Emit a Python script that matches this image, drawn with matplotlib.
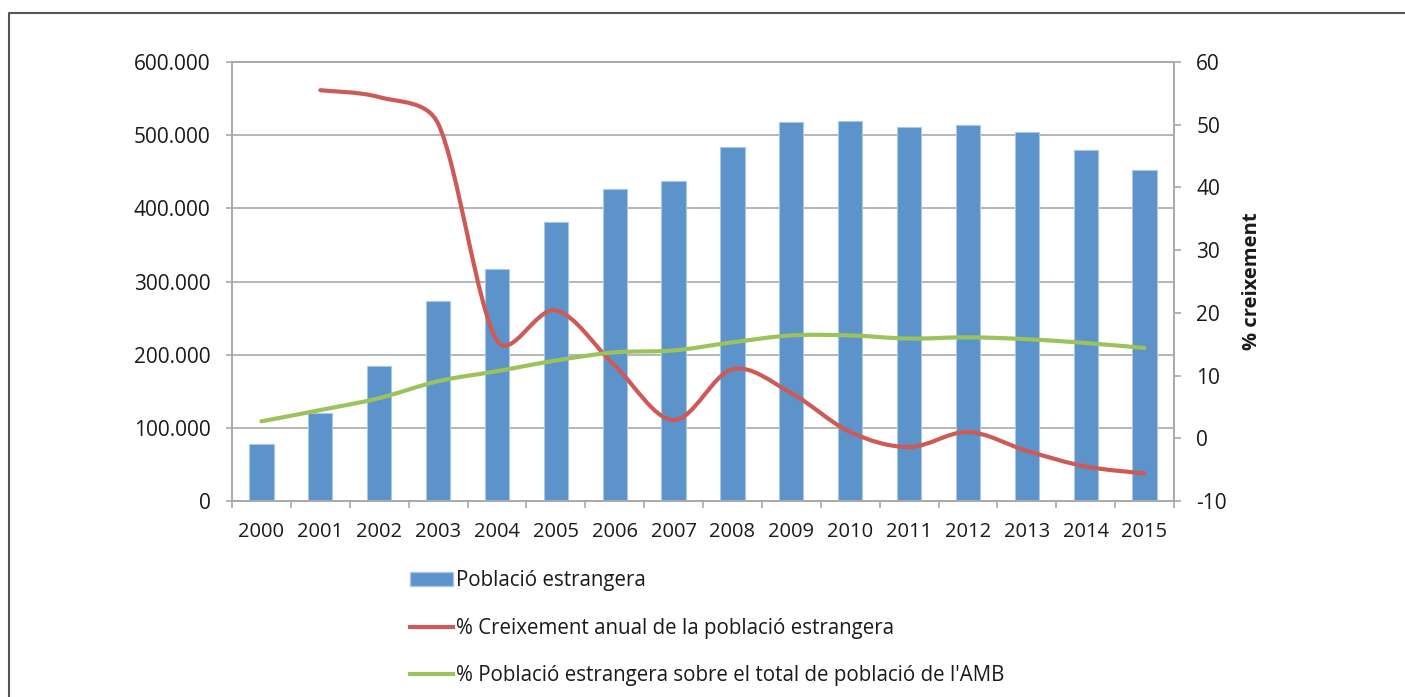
"""Foreign population in the AMB, 2000-2015: bars plus two smoothed % lines."""
import matplotlib
matplotlib.use('Agg')
import matplotlib.pyplot as plt
import numpy as np
from matplotlib.lines import Line2D
from matplotlib.patches import Patch, PathPatch
from matplotlib.path import Path
import matplotlib.ticker as ticker

plt.rcParams['font.family'] = ['Open Sans', 'DejaVu Sans']
plt.rcParams['axes.unicode_minus'] = False

years = ['2000', '2001', '2002', '2003', '2004', '2005', '2006', '2007',
         '2008', '2009', '2010', '2011', '2012', '2013', '2014', '2015']
poblacio = [78000, 120000, 184000, 273000, 317000, 381000, 426000, 438000,
            484000, 518000, 520000, 511000, 514000, 504000, 480000, 452000]
# growth starts in 2001 (index 1)
creixement = [55.5, 54.4, 50.2, 15.6, 20.4, 11.6, 2.9, 11.0,
              7.2, 1.0, -1.4, 1.0, -2.0, -4.5, -5.6]
percent_amb = [2.7, 4.5, 6.4, 9.1, 10.7, 12.4, 13.7, 14.0,
               15.3, 16.4, 16.4, 15.9, 16.1, 15.8, 15.2, 14.4]

BLUE = '#5b93ca'
RED = '#cd5a55'
GREEN = '#9cc25b'
GRID = '#a9a9a9'
TXT = '#1a1a1a'


def smooth_path(x, y, sx, sy, clip=0.4):
    # Catmull-Rom style bezier (arm = chord/6), with each arm clipped to a
    # share of its own segment so short segments don't overshoot.
    # Done in pixel space, then mapped back to data units.
    p = np.column_stack([np.asarray(x, float) * sx, np.asarray(y, float) * sy])
    n = len(p)
    tang = []
    for i in range(n):
        a = p[max(i - 1, 0)]
        b = p[min(i + 1, n - 1)]
        tang.append((b - a) / 6)

    def arm(t, seg):
        L = np.hypot(*t)
        lim = clip * seg
        return t if L <= lim else t * lim / L

    verts = [p[0]]
    codes = [Path.MOVETO]
    for i in range(n - 1):
        seg = np.hypot(*(p[i + 1] - p[i]))
        verts += [p[i] + arm(tang[i], seg), p[i + 1] - arm(tang[i + 1], seg),
                  p[i + 1]]
        codes += [Path.CURVE4] * 3
    verts = np.array(verts) / [sx, sy]
    return Path(verts, codes)


def main():
    fig = plt.figure(figsize=(14.05, 6.97), dpi=100)
    ax = fig.add_axes([232 / 1405, 1 - 501 / 697, 942 / 1405, 439 / 697])
    ax2 = ax.twinx()

    x = np.arange(len(years))
    ax.bar(x, poblacio, width=0.41, color=BLUE, edgecolor='#a9c8e8',
           linewidth=0.8, zorder=2)

    ax.set_xlim(-0.5, len(years) - 0.5)
    ax.set_ylim(0, 600000)
    ax.yaxis.set_major_locator(ticker.MultipleLocator(100000))
    ax.yaxis.set_major_formatter(ticker.FuncFormatter(
        lambda v, p: f'{v:,.0f}'.replace(',', '.')))
    ax.grid(axis='y', color=GRID, linewidth=1.2, zorder=0)
    ax.set_axisbelow(True)

    ax.set_xticks(np.arange(-0.5, len(years)))
    ax.set_xticklabels([])
    ax.set_xticks(x, minor=True)
    ax.set_xticklabels(years, minor=True)
    ax.tick_params(axis='x', which='major', length=5, width=1.2, color=GRID)
    ax.tick_params(axis='x', which='minor', length=0, pad=15, labelsize=14.5,
                   labelcolor=TXT)
    ax.tick_params(axis='y', length=4.5, width=1.2, color=GRID, pad=11,
                   labelsize=15, labelcolor=TXT)

    ax2.set_ylim(-10, 60)
    ax2.yaxis.set_major_locator(ticker.MultipleLocator(10))
    ax2.tick_params(axis='y', length=5, width=1.2, color=GRID, pad=11,
                    labelsize=15, labelcolor=TXT)

    for a in (ax, ax2):
        for side in a.spines.values():
            side.set_color(GRID)
            side.set_linewidth(1.2)

    # pixel size of one data unit on the right axis, for the smoothing
    sx = 942 / 16
    sy = 439 / 70
    ax2.add_patch(PathPatch(smooth_path(x[1:], creixement, sx, sy),
                            facecolor='none', edgecolor=RED, linewidth=3,
                            capstyle='round', zorder=3))
    ax2.add_patch(PathPatch(smooth_path(x, percent_amb, sx, sy),
                            facecolor='none', edgecolor=GREEN, linewidth=3,
                            capstyle='round', zorder=3))

    fig.text(1252 / 1405, 1 - 281 / 697, '% creixement', rotation=90,
             ha='center', va='center', fontsize=14.5, fontweight='bold',
             color=TXT)

    handles = [
        Patch(facecolor=BLUE, edgecolor='#a9c8e8'),
        Line2D([], [], color=RED, linewidth=3),
        Line2D([], [], color=GREEN, linewidth=3),
    ]
    labels = ['Població estrangera',
              '% Creixement anual de la població estrangera',
              "% Població estrangera sobre el total de població de l'AMB"]
    fig.legend(handles, labels, loc='upper left',
               bbox_to_anchor=(410 / 1405, 1 - 570 / 697), frameon=False,
               fontsize=14.8, handlelength=2.1, handleheight=0.7,
               handletextpad=0.15, labelspacing=1.3, borderpad=0,
               borderaxespad=0, labelcolor=TXT)

    # outer frame (only top and left edges visible in the crop)
    fig.add_artist(Line2D([8.5 / 1405, 8.5 / 1405, 1],
                          [0, 1 - 12.5 / 697, 1 - 12.5 / 697],
                          transform=fig.transFigure, color='#555555',
                          linewidth=1.5))

    fig.savefig('out.png', dpi=100)


if __name__ == '__main__':
    main()
